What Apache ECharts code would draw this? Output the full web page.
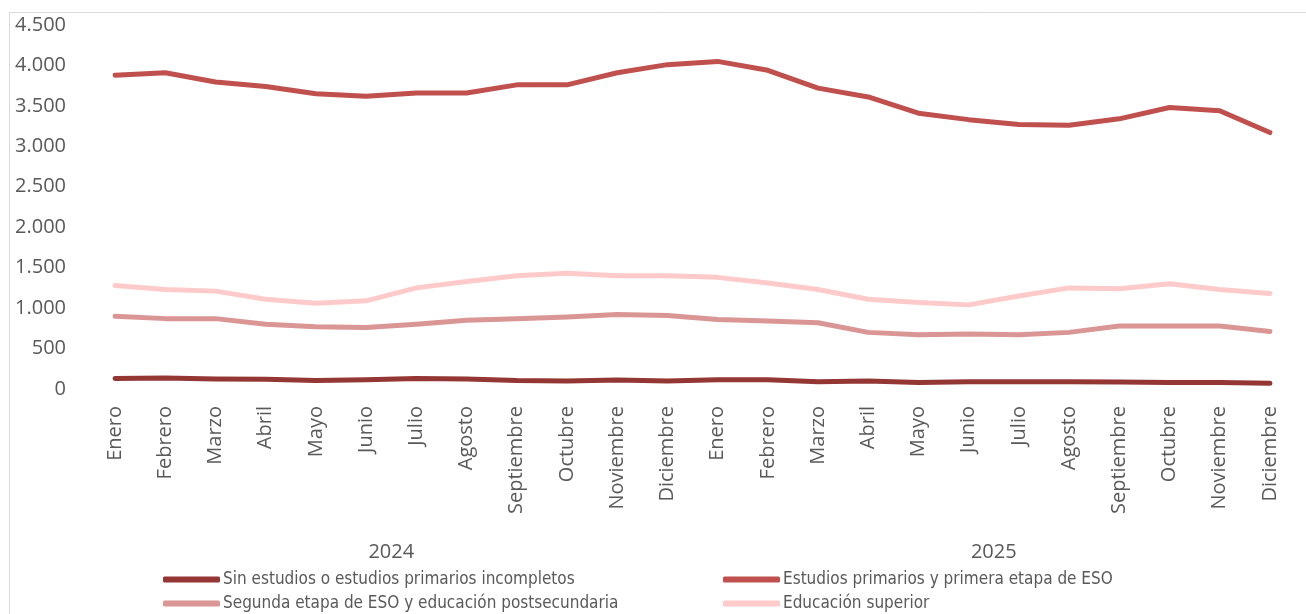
<!DOCTYPE html>
<html>
<head>
<meta charset="utf-8">
<script src="https://cdn.jsdelivr.net/npm/echarts@6/dist/echarts.min.js"></script>
<style>html,body{margin:0;padding:0;background:#fff;}#c{width:1306px;height:614px;}</style>
</head>
<body>
<div id="c"></div>
<script>
const months = ["Enero","Febrero","Marzo","Abril","Mayo","Junio","Julio","Agosto","Septiembre","Octubre","Noviembre","Diciembre",
                "Enero","Febrero","Marzo","Abril","Mayo","Junio","Julio","Agosto","Septiembre","Octubre","Noviembre","Diciembre"];
const years = ["2024","2025"];
const seriesNames = ["Sin estudios o estudios primarios incompletos","Estudios primarios y primera etapa de ESO","Segunda etapa de ESO y educación postsecundaria","Educación superior"];
const sinEstudios = [130,135,125,120,105,115,130,125,105,100,110,100,115,115,90,100,80,90,90,90,85,80,80,70];
const primarios = [3880,3910,3795,3740,3650,3620,3660,3660,3760,3760,3910,4010,4050,3940,3720,3610,3410,3330,3270,3260,3340,3480,3440,3170];
const segunda = [900,870,870,800,770,760,800,850,870,890,920,910,860,840,820,700,670,680,670,700,780,780,780,710];
const superior = [1280,1230,1210,1110,1060,1090,1250,1330,1400,1430,1400,1400,1380,1310,1230,1110,1070,1040,1150,1250,1240,1300,1230,1180];
const yTicks = [0,500,1000,1500,2000,2500,3000,3500,4000,4500];

const colors = ["#943634","#C0504D","#DA9694","#FFCACA"];
const dataArr = [sinEstudios, primarios, segunda, superior];
const textColor = "#595959";
const baseFont = "'Open Sans', sans-serif";
const legendFont = "'Liberation Sans Narrow','DejaVu Sans Condensed', sans-serif";

const legendPos = [[163,571],[723,571],[163,595],[723,595]];
const chart = echarts.init(document.getElementById('c'));
chart.setOption({
  animation: false,
  backgroundColor: '#fff',
  graphic: [{type:'rect', left:7, top:10, shape:{width:1400, height:700}, style:{fill:'none', stroke:'#D9D9D9', lineWidth:1}, silent:true}],
  grid: {left: 90, right: 11, top: 25, bottom: 225},
  legend: seriesNames.map((n,i)=>({
    data:[n], left:legendPos[i][0], top:legendPos[i][1], padding:0, itemWidth:57, itemHeight:6, icon:'roundRect',
    textStyle:{color:textColor, fontSize:17, fontFamily:legendFont, padding:[0,0,0,-2]}
  })),
  xAxis: [
    {type:'category', data: months, boundaryGap:true, gridIndex:0,
     axisLine:{show:false}, axisTick:{show:false},
     axisLabel:{rotate:90, color:textColor, fontSize:20, fontFamily:baseFont, margin:17, interval:0}},
    {type:'category', data: years, boundaryGap:true, gridIndex:0, position:'bottom', offset:145,
     axisLine:{show:false}, axisTick:{show:false},
     axisLabel:{color:textColor, fontSize:20, fontFamily:baseFont, margin:8, interval:0}}
  ],
  yAxis: {type:'value', min:0, max:4500, interval:500,
    axisLine:{show:false}, axisTick:{show:false}, splitLine:{show:false},
    axisLabel:{color:textColor, fontSize:20, fontFamily:baseFont, margin:24,
      formatter: v => yTicks.includes(v) ? String(v).replace(/\B(?=(\d{3})+(?!\d))/g, '.') : ''}},
  series: seriesNames.map((n,i)=>({
    name:n, type:'line', data:dataArr[i], xAxisIndex:0, showSymbol:false, symbol:'none', smooth:false,
    lineStyle:{color:colors[i], width:5, cap:'round', join:'round'}, itemStyle:{color:colors[i]}
  }))
});
</script>
</body>
</html>
